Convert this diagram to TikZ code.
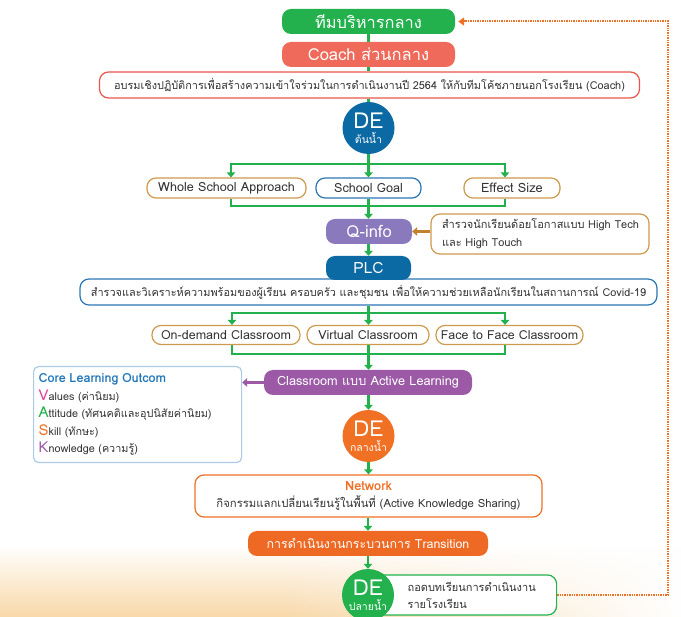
\documentclass[tikz,border=0pt]{standalone}
\usepackage{fontspec}
\setmainfont[Script=Thai]{Loma}
\usetikzlibrary{arrows.meta,fadings,calc}
\definecolor{cGreen}{HTML}{22B14C}
\definecolor{cSalmon}{HTML}{EF6A5B}
\definecolor{cRed}{HTML}{E9564B}
\definecolor{cBlue}{HTML}{0B69A3}
\definecolor{cBlueLine}{HTML}{2A77B6}
\definecolor{cBrown}{HTML}{CD9A4E}
\definecolor{cArrBrown}{HTML}{C0822E}
\definecolor{cLav}{HTML}{8A79BC}
\definecolor{cPurple}{HTML}{9B59A6}
\definecolor{cLightBlue}{HTML}{AECBE6}
\definecolor{cTitle}{HTML}{2478BA}
\definecolor{cPink}{HTML}{E2479A}
\definecolor{cOrange}{HTML}{F07024}
\definecolor{cOrangeFill}{HTML}{EE6A24}
\definecolor{cTxt}{HTML}{333333}
\definecolor{cBg}{HTML}{F8D8A8}
\tikzfading[name=faderight, left color=transparent!100, right color=transparent!0]
\tikzset{
  obox/.style={rectangle, rounded corners=9pt, draw, fill=white, line width=1.2pt, inner sep=0pt, align=center, text=cTxt},
  fbox/.style={rectangle, rounded corners=9pt, inner sep=0pt, align=center, text=white},
  debub/.style={circle, inner sep=0pt, minimum size=52pt, text=white, align=center, font=\fontsize{22}{15}\selectfont},
  gline/.style={draw=cGreen, line width=2.2pt},
  garr/.style={gline, -{Triangle[length=5pt,width=8.5pt]}},
  barr/.style={draw=cArrBrown, line width=2.2pt, -{Triangle[length=5pt,width=8.5pt]}},
  parr/.style={draw=cPurple, line width=2.2pt, -{Triangle[length=5pt,width=8.5pt]}},
  dotl/.style={draw=cOrange, line width=2pt, dash pattern=on 1.3pt off 1.1pt, -{Triangle[length=6pt,width=8pt]}, shorten >=3pt},
}
\newcommand\fsz[1]{\fontsize{#1}{#1}\selectfont}
\newcommand\desub[1]{{\fontsize{10.5}{11}\selectfont #1}}
\begin{document}
\begin{tikzpicture}[x=1pt,y=-1pt]
\useasboundingbox (0,0) rectangle (681,617);
% background tint
\shade[top color=white, bottom color=cBg] (0,545) rectangle (681,617);
\fill[white, path fading=faderight] (280,544) rectangle (682,618);

% nodes
\node[fbox, fill=cGreen, minimum width=173, minimum height=25] (team) at (368.5,21.5) {\fsz{16.4}ทีมบริหารกลาง};
\node[fbox, fill=cSalmon, minimum width=173, minimum height=25] (coach) at (368.5,54.5) {\fsz{16.5}Coach ส่วนกลาง};
\node[obox, draw=cRed, minimum width=540, minimum height=26] (train) at (369.5,85) {\fsz{10.9}อบรมเชิงปฏิบัติการเพื่อสร้างความเข้าใจร่วมในการดำเนินงานปี 2564 ให้กับทีมโค้ชภายนอกโรงเรียน (Coach)};
\node[debub, fill=cBlue] (de1) at (368.5,128) {DE\\\desub{ต้นน้ำ}};

\node[obox, draw=cBrown, minimum width=159, minimum height=20] (whole) at (226.5,188) {\fsz{12.6}Whole School Approach};
\node[obox, draw=cBlueLine, minimum width=105, minimum height=20] (goal) at (368.5,188) {\fsz{12.6}School Goal};
\node[obox, draw=cBrown, minimum width=96, minimum height=20] (eff) at (512,188) {\fsz{12.8}Effect Size};

\node[fbox, fill=cLav, minimum width=86, minimum height=25] (qinfo) at (369,231.5) {\fsz{16.5}Q-info};
\node[obox, draw=cBrown, minimum width=218, minimum height=40, text width=218, align=left, font=\fontsize{11}{18}\selectfont] (qside) at (540,234) {\hspace*{11pt}สำรวจนักเรียนด้อยโอกาสแบบ High Tech\\\hspace*{11pt}และ High Touch};

\node[obox, draw=cBlueLine, minimum width=577, minimum height=26] (covid) at (368.5,292) {\fsz{10.9}สำรวจและวิเคราะห์ความพร้อมของผู้เรียน ครอบครัว และชุมชน เพื่อให้ความช่วยเหลือนักเรียนในสถานการณ์ Covid-19};
\node[fbox, fill=cBlue, minimum width=85, minimum height=24] (plc) at (368.5,268) {\fsz{15.5}PLC};

\node[obox, draw=cBrown, minimum width=148, minimum height=19] (ondem) at (226,335) {\fsz{12.5}On-demand Classroom};
\node[obox, draw=cBrown, minimum width=122, minimum height=19] (virt) at (368,335) {\fsz{12.5}Virtual Classroom};
\node[obox, draw=cBrown, minimum width=147, minimum height=19] (face) at (509.5,335) {\fsz{12.4}Face to Face Classroom};

\node[fbox, fill=cPurple, minimum width=208, minimum height=25] (active) at (368,382.5) {\fsz{12.7}Classroom แบบ Active Learning};

\node[obox, draw=cLightBlue, rounded corners=5pt, anchor=north west, minimum width=208, minimum height=96, text width=198, inner xsep=5pt, align=left, font=\fontsize{10.8}{17.5}\selectfont] (core) at (33,366) {{\bfseries\color{cTitle}\fontsize{12.6}{17.5}\selectfont Core Learning Outcom}\\
{\color{cPink}\fontsize{15}{17.5}\selectfont V}alues (ค่านิยม)\\
{\color{cGreen}\fontsize{15}{17.5}\selectfont A}ttitude (ทัศนคติและอุปนิสัยค่านิยม)\\
{\color{cOrange}\fontsize{15}{17.5}\selectfont S}kill (ทักษะ)\\
{\color{cPurple}\fontsize{15}{17.5}\selectfont K}nowledge (ความรู้)};

\node[debub, fill=cOrange] (de2) at (368.5,436) {DE\\\desub{กลางน้ำ}};

\node[obox, draw=cOrange, minimum width=347, minimum height=42, font=\fontsize{11.3}{17}\selectfont] (net) at (368.5,496) {{\bfseries\color{cOrange}\fontsize{12.8}{17}\selectfont Network}\\กิจกรรมแลกเปลี่ยนเรียนรู้ในพื้นที่ (Active Knowledge Sharing)};
\node[fbox, fill=cOrangeFill, minimum width=240, minimum height=25] (trans) at (368,543.5) {\fsz{12.4}การดำเนินงานกระบวนการ Transition};

\node[obox, draw=cGreen, anchor=west, minimum width=186, minimum height=40, text width=186, align=left, font=\fontsize{11}{17}\selectfont] (side3) at (370,595) {\hspace*{37pt}ถอดบทเรียนการดำเนินงาน\\\hspace*{37pt}รายโรงเรียน};
\node[debub, fill=cGreen] (de3) at (368,595) {DE\\\desub{ปลายน้ำ}};

% connectors
\coordinate (j1) at (368.5,164);
\coordinate (j2) at (368.5,206);
\coordinate (j3) at (368.5,313);
\coordinate (j4) at (368.5,354);
\coordinate (dr) at (668,595);
\draw[gline] (team.south) -- (coach.north);
\draw[gline] (coach.south) -- (coach.south |- train.north);
\draw[gline] (de1.north |- train.south) -- (de1.north);
\draw[gline] (de1.south) -- (j1);
\draw[garr] (j1) -| ([xshift=4.5pt]whole.north);
\draw[garr] (j1) -- (goal.north);
\draw[garr] (j1) -| ([xshift=-7pt]eff.north);
\draw[gline] ([xshift=4.5pt]whole.south) |- (j2) -| ([xshift=-7pt]eff.south);
\draw[gline] (goal.south) -- (j2);
\draw[garr] (j2) -- (qinfo.north -| j2);
\draw[garr] (qinfo.south -| plc) -- (plc.north);
\draw[barr] (qside.west |- qinfo.east) -- (qinfo.east);
\draw[gline] (covid.south) -- (j3);
\draw[garr] (j3) -| ([xshift=6pt]ondem.north);
\draw[garr] (j3) -- (virt.north -| j3);
\draw[garr] (j3) -| ([xshift=-4.5pt]face.north);
\draw[gline] ([xshift=6pt]ondem.south) |- (j4) -| ([xshift=-4.5pt]face.south);
\draw[gline] (virt.south -| j4) -- (j4);
\draw[garr] (j4) -- (active.north -| j4);
\draw[parr] (active.west) -- (core.east |- active.west);
\draw[garr] (active.south -| de2) -- (de2.north);
\draw[garr] (de2.south) -- (net.north -| de2);
\draw[garr] (net.south -| trans) -- (trans.north);
\draw[garr] (trans.south) -- (de3.north);
\draw[dotl] (side3.east) -- (dr) |- (team.east);
\end{tikzpicture}
\end{document}
